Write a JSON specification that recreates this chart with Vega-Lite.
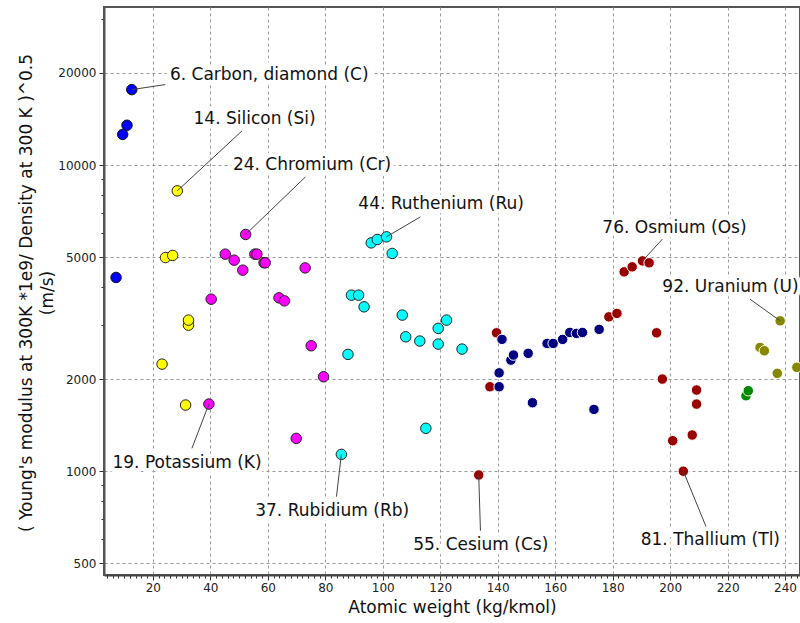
{
  "$schema": "https://vega.github.io/schema/vega-lite/v6.json",
  "width": 696,
  "height": 568,
  "autosize": {"type": "none"},
  "padding": {"left": 104, "top": 7, "right": 0, "bottom": 48},
  "background": "white",
  "config": {
    "view": {"stroke": "#555", "strokeWidth": 2},
    "font": "DejaVu Sans"
  },
  "resolve": {"axis": {"x": "independent", "y": "independent"}},
  "datasets": {
    "elements": [
      {"el": "Li", "group": "Period 2", "weight": 7.2, "speed": 4296},
      {"el": "Be", "group": "Period 2", "weight": 9.5, "speed": 12600},
      {"el": "B", "group": "Period 2", "weight": 11.0, "speed": 13500},
      {"el": "C", "group": "Period 2", "weight": 12.67, "speed": 17650},
      {"el": "Na", "group": "Period 3", "weight": 23.2, "speed": 2238},
      {"el": "Mg", "group": "Period 3", "weight": 24.4, "speed": 4990},
      {"el": "Al", "group": "Period 3", "weight": 26.9, "speed": 5070},
      {"el": "Si", "group": "Period 3", "weight": 28.5, "speed": 8240},
      {"el": "P", "group": "Period 3", "weight": 31.4, "speed": 1645},
      {"el": "S", "group": "Period 3", "weight": 32.4, "speed": 3000},
      {"el": "S2", "group": "Period 3", "weight": 32.4, "speed": 3116},
      {"el": "K", "group": "Period 4", "weight": 39.5, "speed": 1657},
      {"el": "Ca", "group": "Period 4", "weight": 40.3, "speed": 3648},
      {"el": "Sc", "group": "Period 4", "weight": 45.2, "speed": 5119},
      {"el": "Ti", "group": "Period 4", "weight": 48.3, "speed": 4892},
      {"el": "V", "group": "Period 4", "weight": 51.3, "speed": 4538},
      {"el": "Cr", "group": "Period 4", "weight": 52.3, "speed": 5937},
      {"el": "Mn", "group": "Period 4", "weight": 55.5, "speed": 5119},
      {"el": "Fe", "group": "Period 4", "weight": 56.2, "speed": 5119},
      {"el": "Co", "group": "Period 4", "weight": 58.7, "speed": 4800},
      {"el": "Ni", "group": "Period 4", "weight": 59.1, "speed": 4796},
      {"el": "Cu", "group": "Period 4", "weight": 63.9, "speed": 3685},
      {"el": "Zn", "group": "Period 4", "weight": 65.8, "speed": 3602},
      {"el": "Ga", "group": "Period 4", "weight": 69.9, "speed": 1280},
      {"el": "Ge", "group": "Period 4", "weight": 73.0, "speed": 4616},
      {"el": "As", "group": "Period 4", "weight": 75.1, "speed": 2570},
      {"el": "Se", "group": "Period 4", "weight": 79.4, "speed": 2035},
      {"el": "Rb", "group": "Period 5", "weight": 85.6, "speed": 1135},
      {"el": "Sr", "group": "Period 5", "weight": 87.9, "speed": 2408},
      {"el": "Y", "group": "Period 5", "weight": 89.1, "speed": 3760},
      {"el": "Zr", "group": "Period 5", "weight": 91.6, "speed": 3760},
      {"el": "Nb", "group": "Period 5", "weight": 93.5, "speed": 3444},
      {"el": "Mo", "group": "Period 5", "weight": 96.0, "speed": 5572},
      {"el": "Tc", "group": "Period 5", "weight": 98.1, "speed": 5716},
      {"el": "Ru", "group": "Period 5", "weight": 101.3, "speed": 5830},
      {"el": "Rh", "group": "Period 5", "weight": 103.3, "speed": 5146},
      {"el": "Pd", "group": "Period 5", "weight": 106.8, "speed": 3236},
      {"el": "Ag", "group": "Period 5", "weight": 108.0, "speed": 2749},
      {"el": "Cd", "group": "Period 5", "weight": 112.9, "speed": 2662},
      {"el": "In", "group": "Period 5", "weight": 115.0, "speed": 1381},
      {"el": "Sn", "group": "Period 5", "weight": 119.3, "speed": 2929},
      {"el": "Sn2", "group": "Period 5", "weight": 119.3, "speed": 2602},
      {"el": "Sb", "group": "Period 5", "weight": 122.2, "speed": 3116},
      {"el": "Te", "group": "Period 5", "weight": 127.6, "speed": 2506},
      {"el": "Cs", "group": "Period 6", "weight": 133.4, "speed": 972},
      {"el": "Ba", "group": "Period 6", "weight": 137.3, "speed": 1888},
      {"el": "La", "group": "Period 6", "weight": 139.6, "speed": 2832},
      {"el": "Hf", "group": "Period 6", "weight": 178.7, "speed": 3194},
      {"el": "Ta", "group": "Period 6", "weight": 181.5, "speed": 3278},
      {"el": "W", "group": "Period 6", "weight": 184.0, "speed": 4480},
      {"el": "Re", "group": "Period 6", "weight": 186.8, "speed": 4652},
      {"el": "Os", "group": "Period 6", "weight": 190.4, "speed": 4866},
      {"el": "Ir", "group": "Period 6", "weight": 192.7, "speed": 4796},
      {"el": "Pt", "group": "Period 6", "weight": 195.3, "speed": 2832},
      {"el": "Au", "group": "Period 6", "weight": 197.3, "speed": 2000},
      {"el": "Hg", "group": "Period 6", "weight": 200.9, "speed": 1258},
      {"el": "Tl", "group": "Period 6", "weight": 204.6, "speed": 1000},
      {"el": "Pb", "group": "Period 6", "weight": 207.7, "speed": 1313},
      {"el": "Bi", "group": "Period 6", "weight": 209.2, "speed": 1842},
      {"el": "Po", "group": "Period 6", "weight": 209.2, "speed": 1657},
      {"el": "Ce", "group": "Lanthanides", "weight": 140.5, "speed": 2096},
      {"el": "Ce2", "group": "Lanthanides", "weight": 140.5, "speed": 1888},
      {"el": "Pr", "group": "Lanthanides", "weight": 141.5, "speed": 2696},
      {"el": "Nd", "group": "Lanthanides", "weight": 144.6, "speed": 2306},
      {"el": "Pm", "group": "Lanthanides", "weight": 145.5, "speed": 2396},
      {"el": "Sm", "group": "Lanthanides", "weight": 150.6, "speed": 2427},
      {"el": "Eu", "group": "Lanthanides", "weight": 152.1, "speed": 1674},
      {"el": "Gd", "group": "Lanthanides", "weight": 157.2, "speed": 2615},
      {"el": "Tb", "group": "Lanthanides", "weight": 159.3, "speed": 2615},
      {"el": "Dy", "group": "Lanthanides", "weight": 162.6, "speed": 2696},
      {"el": "Ho", "group": "Lanthanides", "weight": 165.1, "speed": 2840},
      {"el": "Er", "group": "Lanthanides", "weight": 167.4, "speed": 2820},
      {"el": "Tm", "group": "Lanthanides", "weight": 169.5, "speed": 2840},
      {"el": "Yb", "group": "Lanthanides", "weight": 173.5, "speed": 1592},
      {"el": "Lu", "group": "Lanthanides", "weight": 175.3, "speed": 2906},
      {"el": "Ra", "group": "Period 7", "weight": 226.4, "speed": 1764},
      {"el": "Ac", "group": "Period 7", "weight": 227.2, "speed": 1832},
      {"el": "Pa", "group": "Actinides", "weight": 231.3, "speed": 2538},
      {"el": "Th", "group": "Actinides", "weight": 232.8, "speed": 2474},
      {"el": "Np", "group": "Actinides", "weight": 237.3, "speed": 2088},
      {"el": "U", "group": "Actinides", "weight": 238.3, "speed": 3100},
      {"el": "Pu", "group": "Actinides", "weight": 244.1, "speed": 2184}
    ],
    "labels": [
      {"label": "6. Carbon, diamond (C)", "tx": 60.5, "ty": 19660, "px": 12.67, "py": 17650, "ex": 24.3, "ey": 18330},
      {"label": "14. Silicon (Si)", "tx": 55.4, "ty": 14200, "px": 28.5, "py": 8240, "ex": 51.0, "ey": 12930},
      {"label": "24. Chromium (Cr)", "tx": 75.4, "ty": 10046, "px": 52.3, "py": 5937, "ex": 73.1, "ey": 9152},
      {"label": "44. Ruthenium (Ru)", "tx": 120.3, "ty": 7454, "px": 101.3, "py": 5830, "ex": 113.1, "ey": 6776},
      {"label": "76. Osmium (Os)", "tx": 201.5, "ty": 6238, "px": 190.4, "py": 4866, "ex": 197.3, "ey": 5730},
      {"label": "92. Uranium (U)", "tx": 221.0, "ty": 3985, "px": 238.3, "py": 3100, "ex": 227.8, "ey": 3648},
      {"label": "19. Potassium (K)", "tx": 31.9, "ty": 1061, "px": 39.5, "py": 1657, "ex": 33.6, "ey": 1188},
      {"label": "37. Rubidium (Rb)", "tx": 82.4, "ty": 743, "px": 85.6, "py": 1135, "ex": 83.9, "ey": 826},
      {"label": "55. Cesium (Cs)", "tx": 134.1, "ty": 574, "px": 133.4, "py": 972, "ex": 134.0, "ey": 639},
      {"label": "81. Thallium (Tl)", "tx": 214.0, "ty": 596, "px": 204.6, "py": 1000, "ex": 212.5, "ey": 659}
    ]
  },
  "layer": [
    {
      "data": {"name": "elements"},
      "mark": {"type": "point", "shape": "circle", "filled": true, "size": 110, "strokeWidth": 1, "opacity": 1},
      "encoding": {
        "x": {
          "field": "weight", "type": "quantitative",
          "scale": {"domain": [3, 245.2], "nice": false, "zero": false},
          "axis": {
            "orient": "bottom",
            "title": "Atomic weight (kg/kmol)",
            "values": [4,6,8,10,12,14,16,18,20,22,24,26,28,30,32,34,36,38,40,42,44,46,48,50,52,54,56,58,60,62,64,66,68,70,72,74,76,78,80,82,84,86,88,90,92,94,96,98,100,102,104,106,108,110,112,114,116,118,120,122,124,126,128,130,132,134,136,138,140,142,144,146,148,150,152,154,156,158,160,162,164,166,168,170,172,174,176,178,180,182,184,186,188,190,192,194,196,198,200,202,204,206,208,210,212,214,216,218,220,222,224,226,228,230,232,234,236,238,240,242,244],
            "labelExpr": "datum.value % 20 === 0 ? datum.label : ''",
            "labelOverlap": false,
            "labelFlush": false,
            "tickSize": {"condition": {"test": "datum.value % 20 === 0", "value": 5}, "value": 3},
            "gridOpacity": {"condition": {"test": "datum.value % 20 === 0", "value": 1}, "value": 0},
            "grid": true,
            "gridColor": "#999",
            "gridDash": [3, 3],
            "gridWidth": 1,
            "domainColor": "#444",
            "domainWidth": 2,
            "tickColor": "#333",
            "tickWidth": 1,
            "labelFont": "DejaVu Sans",
            "labelFontSize": 12,
            "labelColor": "#222",
            "labelPadding": 2,
            "titleFont": "DejaVu Sans",
            "titleFontSize": 17,
            "titleFontWeight": "normal",
            "titleColor": "#111",
            "titleBaseline": "middle",
            "titleY": 32
          }
        },
        "y": {
          "field": "speed", "type": "quantitative",
          "scale": {"type": "log", "domain": [458, 32860], "nice": false},
          "axis": {
            "orient": "left",
            "title": ["( Young's modulus at 300K *1e9/ Density at 300 K )^0.5", "(m/s)"],
            "values": [500, 600, 700, 800, 900, 1000, 2000, 3000, 4000, 5000, 6000, 7000, 8000, 9000, 10000, 20000, 30000],
            "format": "d",
            "labelExpr": "indexof([500, 1000, 2000, 5000, 10000, 20000], datum.value) >= 0 ? datum.label : ''",
            "labelOverlap": false,
            "labelFlush": false,
            "tickSize": {"condition": {"test": "indexof([500, 1000, 2000, 5000, 10000, 20000], datum.value) >= 0", "value": 5}, "value": 3},
            "gridOpacity": {"condition": {"test": "indexof([500, 1000, 2000, 5000, 10000, 20000], datum.value) >= 0", "value": 1}, "value": 0},
            "grid": true,
            "gridColor": "#999",
            "gridDash": [3, 3],
            "gridWidth": 1,
            "domainColor": "#555",
            "domainWidth": 2,
            "tickColor": "#333",
            "tickWidth": 1,
            "labelFont": "DejaVu Sans",
            "labelFontSize": 12,
            "labelColor": "#222",
            "labelPadding": 3,
            "titleFont": "DejaVu Sans",
            "titleFontSize": 17,
            "titleFontWeight": "normal",
            "titleColor": "#111",
            "titleAngle": -90,
            "titleAlign": "center",
            "titleBaseline": "middle",
            "titleLineHeight": 21,
            "titleX": -78,
            "titleY": 285.5
          }
        },
        "color": {
          "field": "group", "type": "nominal", "legend": null,
          "scale": {
            "domain": ["Period 2", "Period 3", "Period 4", "Period 5", "Period 6", "Lanthanides", "Period 7", "Actinides"],
            "range": ["#0000ff", "#ffff00", "#ff00ff", "#00ffff", "#990000", "#000080", "#008800", "#888800"]
          }
        },
        "stroke": {
          "field": "group", "type": "nominal", "legend": null,
          "scale": {
            "domain": ["Period 2", "Period 3", "Period 4", "Period 5", "Period 6", "Lanthanides", "Period 7", "Actinides"],
            "range": ["#111111", "#222222", "#222222", "#222222", "#ffffff", "#ffffff", "#ffffff", "#ffffff"]
          }
        },
        "zindex": {"value": 2}
      }
    },
    {
      "data": {"name": "labels"},
      "mark": {"type": "text", "font": "DejaVu Sans", "fontSize": 17, "align": "center", "baseline": "middle", "fill": "white", "stroke": "white", "strokeWidth": 9, "strokeJoin": "round"},
      "encoding": {
        "x": {"field": "tx", "type": "quantitative", "scale": {"domain": [3, 245.2], "nice": false, "zero": false}, "axis": null},
        "y": {"field": "ty", "type": "quantitative", "scale": {"type": "log", "domain": [458, 32860], "nice": false}, "axis": null},
        "text": {"field": "label"}
      }
    },
    {
      "data": {"name": "labels"},
      "mark": {"type": "rule", "color": "#444", "strokeWidth": 1},
      "encoding": {
        "x": {"field": "px", "type": "quantitative", "scale": {"domain": [3, 245.2], "nice": false, "zero": false}, "axis": null},
        "y": {"field": "py", "type": "quantitative", "scale": {"type": "log", "domain": [458, 32860], "nice": false}, "axis": null},
        "x2": {"field": "ex"},
        "y2": {"field": "ey"}
      }
    },
    {
      "data": {"name": "labels"},
      "mark": {"type": "text", "font": "DejaVu Sans", "fontSize": 17, "align": "center", "baseline": "middle", "fill": "#111"},
      "encoding": {
        "x": {"field": "tx", "type": "quantitative", "scale": {"domain": [3, 245.2], "nice": false, "zero": false}, "axis": null},
        "y": {"field": "ty", "type": "quantitative", "scale": {"type": "log", "domain": [458, 32860], "nice": false}, "axis": null},
        "text": {"field": "label"}
      }
    }
  ]
}
